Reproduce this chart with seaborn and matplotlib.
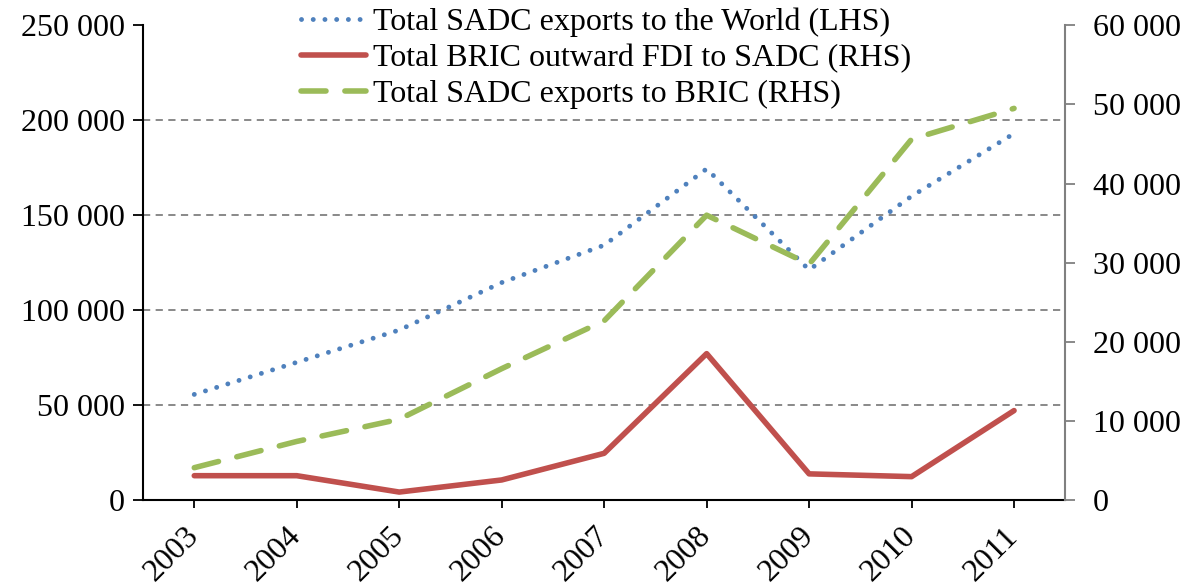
import numpy as np
import pandas as pd
import seaborn as sns
import matplotlib.pyplot as plt
from matplotlib.ticker import FuncFormatter

years = [2003, 2004, 2005, 2006, 2007, 2008, 2009, 2010, 2011]
exports_world = [55600, 72500, 89500, 114500, 134200, 174400, 121200, 160000, 193000]
fdi_bric = [3070, 3070, 1000, 2530, 5900, 18500, 3300, 2950, 11300]
exports_bric = [4080, 7400, 10200, 16600, 22650, 36000, 29800, 45600, 49500]

lbl_world = "Total SADC exports to the World (LHS)"
lbl_fdi = "Total BRIC outward FDI to SADC (RHS)"
lbl_bric = "Total SADC exports to BRIC (RHS)"

left_ticks = [0, 50000, 100000, 150000, 200000, 250000]
right_ticks = [0, 10000, 20000, 30000, 40000, 50000, 60000]

blue, red, green = "#4F81BD", "#C0504D", "#9BBB59"

sns.set_style("ticks")
plt.rcParams['font.family'] = ['Liberation Serif', 'DejaVu Serif']
plt.rcParams['font.size'] = 23
plt.rcParams['text.color'] = 'black'

df = pd.DataFrame({"year": years, "world": exports_world,
                   "fdi": fdi_bric, "bric": exports_bric})

fig = plt.figure(figsize=(11.9, 5.86), dpi=100)
ax = fig.add_axes([0.1202, 0.1468, 0.775, 0.81])
ax2 = ax.twinx()

sns.lineplot(data=df, x="year", y="world", ax=ax, color=blue, lw=3.5,
             label=lbl_world, legend=False)
ax.lines[-1].set_dashes((0.01, 2.4))
ax.lines[-1].set_dash_capstyle("round")

sns.lineplot(data=df, x="year", y="fdi", ax=ax2, color=red, lw=4,
             label=lbl_fdi, legend=False)
sns.lineplot(data=df, x="year", y="bric", ax=ax2, color=green, lw=4,
             label=lbl_bric, legend=False)
ax2.lines[-1].set_dashes((4.5, 3.4))
ax2.lines[-1].set_dash_capstyle("round")

fmt = FuncFormatter(lambda v, p: f"{v:,.0f}".replace(",", " "))

ax.set_xlim(2002.5, 2011.5)
ax.set_ylim(0, 250000)
ax2.set_ylim(0, 60000)
ax.set_yticks(left_ticks)
ax2.set_yticks(right_ticks)
ax.yaxis.set_major_formatter(fmt)
ax2.yaxis.set_major_formatter(fmt)
ax.set_xticks(years)
ax.set_xticklabels([str(y) for y in years], rotation=45, ha="right",
                   va="center", rotation_mode="anchor")
ax.set_xlabel("")
ax.set_ylabel("")
ax2.set_ylabel("")

ax.yaxis.grid(True, color="#808080", linestyle=(0, (4, 3)), lw=1.3)
ax.get_ygridlines()[-1].set_visible(False)

for a in (ax, ax2):
    a.spines["top"].set_visible(False)
ax.spines["left"].set_color("black")
ax.spines["bottom"].set_color("black")
ax.spines["right"].set_visible(False)
ax2.spines["left"].set_visible(False)
ax2.spines["bottom"].set_visible(False)
ax2.spines["right"].set_color("#808080")
ax2.spines["right"].set_linewidth(1.5)
ax.spines["left"].set_linewidth(1.5)
ax.spines["bottom"].set_linewidth(1.5)
ax.tick_params(axis="y", direction="out", length=7, width=1.3, colors="black", pad=6)
ax.tick_params(axis="x", direction="out", length=6, width=1.3, colors="black", pad=17)
ax2.tick_params(axis="y", direction="out", length=7, width=1.3, color="#808080",
                labelcolor="black", pad=13)

h1, l1 = ax.get_legend_handles_labels()
h2, l2 = ax2.get_legend_handles_labels()
leg = ax2.legend(h1 + h2, l1 + l2, loc="upper left", bbox_to_anchor=(0.234, 1.025),
                 bbox_transform=fig.transFigure, frameon=False, handlelength=2.05,
                 handletextpad=0.2, labelspacing=0.2, borderpad=0.2)
for t in leg.get_texts():
    t.set_color("black")

fig.savefig("out.png", dpi=100)
